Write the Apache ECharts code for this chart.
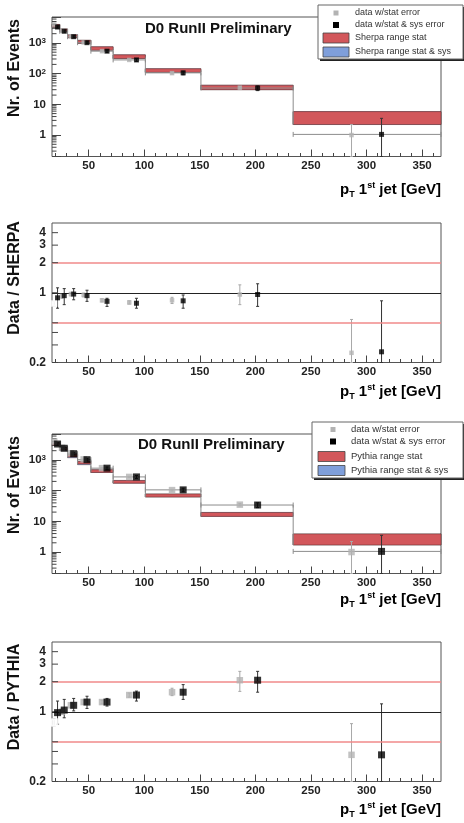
<!DOCTYPE html>
<html>
<head>
<meta charset="utf-8">
<style>
html, body { margin: 0; padding: 0; background: #fff; }
#chartElem { width: 464px; height: 823px; }
</style>
</head>
<body>
<div id="chartElem"></div>

<script src="https://cdn.jsdelivr.net/npm/echarts@6/dist/echarts.min.js"></script>

<script>

// --- data ---

let binLo = [17, 24, 31, 40, 52, 72, 101, 151, 234];
let binHi = [24, 31, 40, 52, 72, 101, 151, 234, 367];

let xGray = [19, 26, 34, 45.5, 62, 86.5, 125, 186, 286.5];
let xBlack = [22, 28, 36.5, 48.5, 66.5, 93, 135, 202, 313.5];

let countGray = [4000, 2500, 1650, 1040, 540, 280, 104, 35, 1.0];
let countGrayLo = [3850, 2420, 1600, 1005, 520, 268, 98, 32, 0.2];
let countGrayHi = [4150, 2580, 1700, 1075, 560, 292, 110, 38, 2.2];
let countBlack = [3300, 2400, 1600, 1020, 540, 280, 106, 34, 1.05];
let countBlackLo = [3000, 2200, 1480, 940, 490, 250, 92, 28, 0.2];
let countBlackHi = [3600, 2600, 1720, 1100, 590, 310, 120, 40, 3.5];

let sherpaStatLo = [3200, 2300, 1480, 970, 580, 310, 110, 30, 2.2];
let sherpaStatHi = [4000, 2850, 1830, 1220, 750, 410, 145, 42, 5.8];
let sherpaSysLo = [3200, 2300, 1480, 970, 580, 310, 110, 30, 2.2];
let sherpaSysHi = [4000, 2850, 1830, 1220, 750, 410, 145, 42, 5.8];

let pythiaStatLo = [2950, 2100, 1250, 740, 390, 175, 62, 14.5, 1.7];
let pythiaStatHi = [3600, 2550, 1520, 900, 480, 215, 78, 19.5, 3.9];
let pythiaSysLo = [2950, 2000, 1180, 700, 390, 175, 62, 14.5, 1.7];
let pythiaSysHi = [3600, 2550, 1520, 900, 480, 215, 78, 19.5, 3.9];

let sherpaRatioGray = [0.78, 0.93, 0.97, 0.95, 0.84, 0.80, 0.84, 0.96, 0.25];
let sherpaRatioGrayLo = [0.74, 0.88, 0.93, 0.91, 0.81, 0.77, 0.78, 0.76, 0.2];
let sherpaRatioGrayHi = [0.82, 0.98, 1.01, 0.99, 0.87, 0.83, 0.90, 1.20, 0.54];
let sherpaRatioBlack = [0.89, 0.935, 0.97, 0.935, 0.82, 0.785, 0.83, 0.96, 0.256];
let sherpaRatioBlackLo = [0.70, 0.76, 0.85, 0.82, 0.73, 0.70, 0.70, 0.73, 0.2];
let sherpaRatioBlackHi = [1.12, 1.10, 1.10, 1.06, 0.88, 0.88, 0.95, 1.23, 0.83];

let pythiaRatioGray = [0.78, 1.0, 1.16, 1.25, 1.25, 1.47, 1.57, 2.07, 0.37];
let pythiaRatioGrayLo = [0.72, 0.94, 1.10, 1.19, 1.20, 1.40, 1.45, 1.60, 0.2];
let pythiaRatioGrayHi = [0.85, 1.07, 1.22, 1.31, 1.30, 1.54, 1.72, 2.54, 0.76];
let pythiaRatioBlack = [0.98, 1.04, 1.16, 1.25, 1.25, 1.47, 1.57, 2.07, 0.37];
let pythiaRatioBlackLo = [0.75, 0.87, 1.02, 1.08, 1.14, 1.28, 1.33, 1.57, 0.2];
let pythiaRatioBlackHi = [1.28, 1.33, 1.36, 1.43, 1.36, 1.61, 1.87, 2.54, 1.2];

let refLines = [1, 2, 0.5];

// --- axes ---

let xMin = 17, xMax = 367;
let xMajorTicks = [50, 100, 150, 200, 250, 300, 350];
let xMinorTicks = [20, 30, 40, 60, 70, 80, 90, 110, 120, 130, 140, 160, 170, 180, 190,
	210, 220, 230, 240, 260, 270, 280, 290, 310, 320, 330, 340, 360];

let countMin = 0.2, countMax = 7000;
let countTicks = [1, 10, 100, 1000];
let countTickLabels = ["1", "10", "10{s|2}", "10{s|3}"];
let countMinorTicks = [0.3, 0.4, 0.5, 0.6, 0.7, 0.8, 0.9, 2, 3, 4, 5, 6, 7, 8, 9,
	20, 30, 40, 50, 60, 70, 80, 90, 200, 300, 400, 500, 600, 700, 800, 900,
	2000, 3000, 4000, 5000, 6000];

let ratioMin = 0.2, ratioMax = 5;
let ratioTicks = [0.2, 0.3, 0.4, 0.5, 1, 2, 3, 4];
let ratioTickLabels = ["0.2", "", "", "", "1", "2", "3", "4"];


let font = "'Liberation Sans', Arial, Helvetica, sans-serif";
let gridTops = [17, 223, 434, 642];
let gridHeight = 139.5;

let chart = echarts.init(document.getElementById("chartElem"));

let grids = [], xAxes = [], yAxes = [], series = [];


function errorBarItem(params, api) {
	let x = api.value(0),
		top = api.coord([x, api.value(2)]),
		bot = api.coord([x, api.value(1)]),
		style = {stroke: api.visual("color"), lineWidth: 1};
	
	return {
		type: "group",
		children: [
			{type: "line", shape: {x1: top[0], y1: top[1], x2: bot[0], y2: bot[1]}, style},
			{type: "line", shape: {x1: top[0] - 1.5, y1: top[1], x2: top[0] + 1.5, y2: top[1]}, style},
			{type: "line", shape: {x1: bot[0] - 1.5, y1: bot[1], x2: bot[0] + 1.5, y2: bot[1]}, style}
		]
	};
}

function binBarItem(params, api) {
	let a = api.coord([api.value(0), api.value(2)]),
		b = api.coord([api.value(1), api.value(2)]),
		style = {stroke: "#8c8c8c", lineWidth: 1};
	
	return {
		type: "group",
		children: [
			{type: "line", shape: {x1: a[0], y1: a[1], x2: b[0], y2: b[1]}, style},
			{type: "line", shape: {x1: a[0], y1: a[1] - 2.5, x2: a[0], y2: a[1] + 2.5}, style},
			{type: "line", shape: {x1: b[0], y1: b[1] - 2.5, x2: b[0], y2: b[1] + 2.5}, style}
		]
	};
}

function bandItem(params, api) {
	let p0 = api.coord([api.value(0), api.value(3)]),
		p1 = api.coord([api.value(1), api.value(2)]),
		prev = api.coord([api.value(0), api.value(4)]),
		children = [{
			type: "rect",
			shape: {x: p0[0], y: p0[1], width: p1[0] - p0[0], height: p1[1] - p0[1]},
			style: {fill: api.visual("color"), stroke: "rgba(80,40,40,0.55)", lineWidth: 0.8}
		}];
	
	if (params.dataIndex > 0) {
		children.push({
			type: "line",
			shape: {x1: p0[0], y1: prev[1], x2: p0[0], y2: p1[1]},
			style: {stroke: "#8c8c8c", lineWidth: 1}
		});
	}
	return {type: "group", children};
}

function tickItem(labels) {
	return function(params, api) {
		let p = api.coord([xMin, api.value(0)]),
			len = api.value(1),
			children = [{
				type: "line",
				shape: {x1: p[0], y1: p[1], x2: p[0] + len, y2: p[1]},
				style: {stroke: "#444", lineWidth: 1}
			}];
		
		let text = labels ? labels[params.dataIndex] : "";
		
		if (text) {
			children.push({
				type: "text",
				x: p[0] - 6,
				y: p[1],
				style: {text, align: "right", verticalAlign: "middle", fill: "#222",
					font: "bold 12px " + font}
			});
		}
		return {type: "group", children};
	};
}


function addPanel(g, isCount, gray, grayLo, grayHi, black, blackLo, blackHi, bands) {
	let big = g >= 2,
		xi = g * 2,
		yi = g * 2;
	
	grids.push({
		left: 52, right: 23, top: gridTops[g], height: gridHeight,
		show: true, borderColor: "#555", borderWidth: 1, backgroundColor: "transparent"
	});
	
	xAxes.push({
		gridIndex: g, type: "value", min: xMin, max: xMax, position: "bottom",
		axisLine: {show: false}, splitLine: {show: false},
		axisTick: {inside: true, length: 7, customValues: xMajorTicks, lineStyle: {color: "#444"}},
		axisLabel: {customValues: xMajorTicks, margin: 3, fontSize: 11.5, fontWeight: "bold",
			color: "#222", fontFamily: font}
	}, {
		gridIndex: g, type: "value", min: xMin, max: xMax, position: "bottom",
		axisLine: {show: false}, splitLine: {show: false}, axisLabel: {show: false},
		axisTick: {inside: true, length: 3.5, customValues: xMinorTicks, lineStyle: {color: "#444"}}
	});
	
	if (isCount) {
		yAxes.push({
			gridIndex: g, type: "log", logBase: 10, min: countMin, max: countMax, position: "left",
			axisLine: {show: false}, splitLine: {show: false},
			axisTick: {inside: true, length: 9, lineStyle: {color: "#444"}},
			axisLabel: {
				margin: 6, fontSize: 11.5, fontWeight: "bold", color: "#222", fontFamily: font,
				formatter: v => {
					let k = countTicks.findIndex(t => Math.abs(v - t) / t < 1e-6);
					return k < 0 ? "" : countTickLabels[k];
				},
				rich: {s: {fontSize: 8, fontWeight: "bold", verticalAlign: "top", lineHeight: 8,
					color: "#222", fontFamily: font}}
			}
		});
	} else {
		yAxes.push({
			gridIndex: g, type: "log", logBase: 10, min: ratioMin, max: ratioMax, position: "left",
			axisLine: {show: false}, splitLine: {show: false},
			axisTick: {show: false}, axisLabel: {show: false}
		});
	}
	yAxes.push({
		gridIndex: g, type: "log", logBase: 10, show: false,
		min: isCount ? countMin : ratioMin, max: isCount ? countMax : ratioMax
	});
	
	// extra ticks (minor decades / ratio labels)
	series.push({
		type: "custom", xAxisIndex: xi, yAxisIndex: yi, silent: true, z: 5,
		renderItem: tickItem(isCount ? null : ratioTickLabels),
		encode: {y: 0},
		data: isCount ? countMinorTicks.map(v => [v, 4.5]) : ratioTicks.map(v => [v, 6])
	});
	
	if (isCount) {
		series.push({
			name: bands.name + " range stat & sys", type: "custom", xAxisIndex: xi, yAxisIndex: yi,
			silent: true, z: 1, itemStyle: {color: "#7f9fdb"},
			renderItem: bandItem,
			data: binLo.map((lo, i) => [lo, binHi[i], bands.sysLo[i], bands.sysHi[i], bands.sysHi[i]])
		}, {
			name: bands.name + " range stat", type: "custom", xAxisIndex: xi, yAxisIndex: yi,
			silent: true, z: 2, itemStyle: {color: "#d2575b"},
			renderItem: bandItem,
			data: binLo.map((lo, i) => [lo, binHi[i], bands.statLo[i], bands.statHi[i], black[i - 1] || 0])
		}, {
			type: "custom", xAxisIndex: xi, yAxisIndex: yi, silent: true, z: 3,
			renderItem: binBarItem,
			data: binLo.map((lo, i) => [lo, binHi[i], black[i]])
		});
	} else {
		series.push({
			type: "line", xAxisIndex: xi, yAxisIndex: yi, data: [], silent: true, z: 2,
			markLine: {
				silent: true, symbol: "none", label: {show: false},
				lineStyle: {type: "solid", width: 1.5, color: "#f08a8a", opacity: 1},
				data: refLines.map(v => v === 1
					? {yAxis: v, lineStyle: {type: "solid", width: 1, color: "#222", opacity: 1}}
					: {yAxis: v})
			}
		});
	}
	
	series.push({
		name: "data w/stat error bars", type: "custom", xAxisIndex: xi, yAxisIndex: yi,
		silent: true, z: 4, itemStyle: {color: "#a8a8a8"},
		renderItem: errorBarItem,
		data: xGray.map((x, i) => [x, grayLo[i], grayHi[i]])
	}, {
		name: "data w/stat & sys error bars", type: "custom", xAxisIndex: xi, yAxisIndex: yi,
		silent: true, z: 4, itemStyle: {color: "#333"},
		renderItem: errorBarItem,
		data: xBlack.map((x, i) => [x, blackLo[i], blackHi[i]])
	}, {
		name: "data w/stat error", type: "scatter", xAxisIndex: xi, yAxisIndex: yi,
		silent: true, z: 6, symbol: "rect", symbolSize: big ? 6.5 : 4.5,
		itemStyle: {color: "#b3b3b3"},
		data: xGray.map((x, i) => (!isCount && i === 0)
			? {value: [x, gray[i]], symbol: "emptyRect", itemStyle: {color: "#fff", borderColor: "#999", borderWidth: 1}}
			: [x, gray[i]])
	}, {
		name: "data w/stat & sys error", type: "scatter", xAxisIndex: xi, yAxisIndex: yi,
		silent: true, z: 7, symbol: "rect", symbolSize: big ? 7 : 5,
		itemStyle: {color: "#000"},
		data: xBlack.map((x, i) => [x, black[i]])
	});
}

addPanel(0, true, countGray, countGrayLo, countGrayHi, countBlack, countBlackLo, countBlackHi,
	{name: "Sherpa", statLo: sherpaStatLo, statHi: sherpaStatHi, sysLo: sherpaSysLo, sysHi: sherpaSysHi});
addPanel(1, false, sherpaRatioGray, sherpaRatioGrayLo, sherpaRatioGrayHi,
	sherpaRatioBlack, sherpaRatioBlackLo, sherpaRatioBlackHi);
addPanel(2, true, countGray, countGrayLo, countGrayHi, countBlack, countBlackLo, countBlackHi,
	{name: "Pythia", statLo: pythiaStatLo, statHi: pythiaStatHi, sysLo: pythiaSysLo, sysHi: pythiaSysHi});
addPanel(3, false, pythiaRatioGray, pythiaRatioGrayLo, pythiaRatioGrayHi,
	pythiaRatioBlack, pythiaRatioBlackLo, pythiaRatioBlackHi);


// --- texts ---

function legendBox(x, y, w, h, model, fs, rowY, squareX, boxX, boxW, textX) {
	let textStyle = t => ({text: t, fill: "#333", font: fs + "px " + font, verticalAlign: "middle"});
	return {
		type: "group", x, y, z: 50,
		children: [
			{type: "rect", shape: {x: 2, y: 2, width: w, height: h}, style: {fill: "#222"}},
			{type: "rect", shape: {x: 0, y: 0, width: w, height: h}, style: {fill: "#fff", stroke: "#666", lineWidth: 1}},
			{type: "rect", shape: {x: squareX - 2.5, y: rowY[0] - 2.5, width: 5, height: 5}, style: {fill: "#b3b3b3"}},
			{type: "rect", shape: {x: squareX - 3, y: rowY[1] - 3, width: 6, height: 6}, style: {fill: "#000"}},
			{type: "rect", shape: {x: boxX, y: rowY[2] - 5, width: boxW, height: 10}, style: {fill: "#d2575b", stroke: "#444", lineWidth: 0.8}},
			{type: "rect", shape: {x: boxX, y: rowY[3] - 5, width: boxW, height: 10}, style: {fill: "#7f9fdb", stroke: "#444", lineWidth: 0.8}},
			{type: "text", x: textX, y: rowY[0], style: textStyle("data w/stat error")},
			{type: "text", x: textX, y: rowY[1], style: textStyle("data w/stat & sys error")},
			{type: "text", x: textX, y: rowY[2], style: textStyle(model + " range stat")},
			{type: "text", x: textX, y: rowY[3], style: textStyle(model + " range stat & sys")}
		]
	};
}

function yTitle(text, y) {
	return {
		type: "text", x: 15, y, rotation: Math.PI / 2,
		style: {text, align: "center", verticalAlign: "middle", fill: "#111", font: "bold 16px " + font}
	};
}

function xTitle(y) {
	let base = {fontSize: 15, fontWeight: "bold", fontFamily: font, color: "#111", lineHeight: 18};
	return {
		type: "text", x: 441, y,
		style: {
			text: "{m|p}{sub|T}{m| 1}{sup|st}{m| jet [GeV]}",
			align: "right", verticalAlign: "middle",
			rich: {
				m: base,
				sub: Object.assign({}, base, {fontSize: 9, verticalAlign: "bottom", lineHeight: 9}),
				sup: Object.assign({}, base, {fontSize: 9, verticalAlign: "top", lineHeight: 9})
			}
		}
	};
}

let titleStyle = {fontSize: 15, fontWeight: "bold", color: "#111", fontFamily: font};

chart.setOption({
	animation: false,
	backgroundColor: "#fff",
	title: [
		{text: "D0 RunII Preliminary", left: 145, top: 21, padding: 0, textStyle: titleStyle},
		{text: "D0 RunII Preliminary", left: 138, top: 437, padding: 0, textStyle: titleStyle}
	],
	grid: grids,
	xAxis: xAxes,
	yAxis: yAxes,
	series: series,
	graphic: [
		yTitle("Nr. of Events", 68),
		yTitle("Data / SHERPA", 278),
		yTitle("Nr. of Events", 485),
		yTitle("Data / PYTHIA", 697),
		xTitle(190),
		xTitle(392),
		xTitle(600),
		xTitle(810),
		legendBox(318, 5, 145, 54, "Sherpa", 9, [8, 20, 33, 47], 18, 5, 26, 37),
		legendBox(312, 422, 151, 56, "Pythia", 9.5, [7.5, 19.5, 34.5, 48.5], 21, 6, 27, 39)
	]
});

</script>
</body>
</html>
